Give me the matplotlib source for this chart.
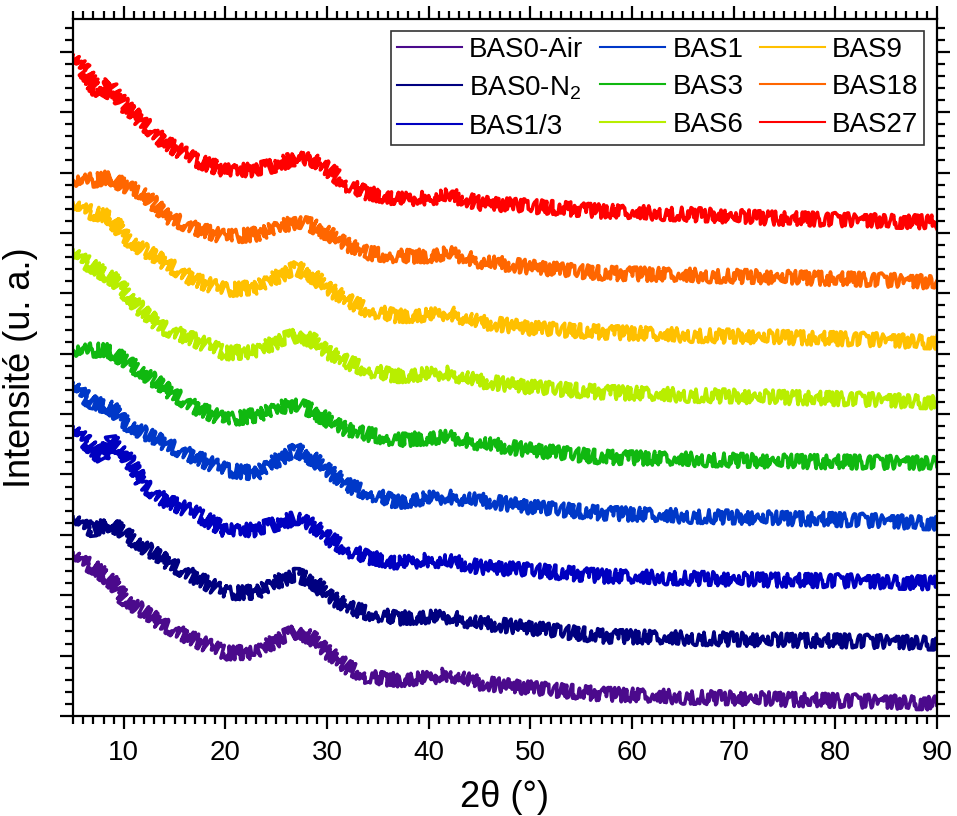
import matplotlib
matplotlib.use("Agg")
import matplotlib.pyplot as plt
from matplotlib.ticker import MultipleLocator, NullFormatter

# 2-theta positions (degrees) at which the patterns were read
two_theta = [5, 6, 7, 7.8, 8.7, 10, 12, 14, 17, 20, 23, 25.5, 27, 28.5, 30,
             32, 34, 37, 40, 42, 45, 50, 57, 65, 74, 82, 90]

# stacked intensities (a.u.)
bas0_air = [163, 154, 149, 143, 136, 118, 104, 91, 76, 63, 64, 78, 85, 78, 64,
            49, 39, 36, 38, 42, 33, 28, 22, 19, 17, 15, 13]
bas0_n2 = [199, 191, 186, 189, 193, 183, 169, 156, 139, 123, 124, 136, 141, 136, 121,
           109, 103, 98, 99, 99, 93, 88, 80, 78, 76, 75, 73]
bas1_3 = [289, 278, 266, 259, 276, 264, 231, 216, 203, 186, 186, 194, 198, 191, 179,
          166, 159, 153, 156, 155, 149, 146, 140, 138, 136, 135, 133]
bas1 = [333, 321, 313, 311, 309, 294, 283, 273, 259, 246, 243, 258, 266, 258, 246,
        231, 223, 214, 218, 219, 216, 209, 203, 200, 198, 196, 193]
bas3 = [366, 366, 366, 366, 365, 356, 343, 328, 309, 296, 301, 309, 311, 306, 296,
        286, 282, 276, 278, 279, 273, 266, 259, 257, 255, 254, 253]
bas6 = [466, 456, 449, 444, 439, 426, 403, 388, 376, 363, 365, 376, 381, 376, 364,
        354, 346, 340, 342, 343, 335, 329, 324, 321, 319, 317, 314]
bas9 = [513, 507, 503, 501, 499, 480, 466, 454, 436, 426, 429, 441, 448, 441, 428,
        416, 406, 400, 401, 403, 394, 388, 384, 381, 379, 377, 374]
bas18 = [536, 536, 536, 537, 539, 530, 523, 501, 488, 479, 482, 490, 494, 491, 483,
         471, 463, 460, 460, 463, 455, 449, 443, 441, 439, 437, 434]
bas27 = [661, 648, 631, 621, 633, 611, 593, 574, 556, 546, 546, 553, 558, 556, 548,
         531, 523, 517, 518, 521, 513, 510, 505, 502, 498, 496, 494]

labels = ["BAS0-Air", r"BAS0-N$_2$", "BAS1/3", "BAS1", "BAS3", "BAS6",
          "BAS9", "BAS18", "BAS27"]
series = [bas0_air, bas0_n2, bas1_3, bas1, bas3, bas6, bas9, bas18, bas27]
colors = ["#4B0A8C", "#000080", "#0000C0", "#0038C8", "#10B810", "#B8EE00",
          "#FFC000", "#FF6600", "#FF0000"]

plt.rcParams["font.family"] = ["Liberation Sans", "DejaVu Sans"]
plt.rcParams["mathtext.fontset"] = "custom"
plt.rcParams["mathtext.rm"] = "Liberation Sans"

fig = plt.figure(figsize=(9.57, 8.16), dpi=100)
ax = fig.add_axes([0.0763, 0.1225, 0.9027, 0.854])

for y, c, lab in zip(series, colors, labels):
    ln, = ax.plot(two_theta, y, color=c, lw=2.6, solid_joinstyle="round",
                  label=lab)
    ln.set_sketch_params(7.0, 0.5, 80)

ax.set_xlim(5, 90)
ax.set_ylim(0, 697)
ax.xaxis.set_major_locator(MultipleLocator(10))
ax.xaxis.set_minor_locator(MultipleLocator(1))
ax.yaxis.set_major_locator(MultipleLocator(60.4))
ax.yaxis.set_minor_locator(MultipleLocator(12.08))
ax.yaxis.set_major_formatter(NullFormatter())

for side in ["left", "right", "top", "bottom"]:
    ax.spines[side].set_linewidth(1.6)
ax.tick_params(which="both", direction="out", top=True, right=True,
               width=1.6, colors="black")
ax.tick_params(which="major", length=9.5)
ax.tick_params(which="minor", length=5.5)
ax.tick_params(axis="x", which="major", labelsize=20, pad=8)

ax.set_xlabel("2θ (°)", fontsize=26, labelpad=10)
ax.set_ylabel("Intensité (u. a.)", fontsize=26, labelpad=12)

leg = ax.legend(ncol=3, loc="upper right", fontsize=20, frameon=True,
                fancybox=False, edgecolor="black", handlelength=2.35,
                handletextpad=0.25, columnspacing=0.6, labelspacing=0.42,
                borderpad=0.2, borderaxespad=0.3, bbox_to_anchor=(0.995, 0.995))
leg.get_frame().set_linewidth(1.2)
for h in leg.legend_handles:
    h.set_linewidth(1.5)
    h.set_sketch_params(None)

fig.savefig("out.png", dpi=100)
